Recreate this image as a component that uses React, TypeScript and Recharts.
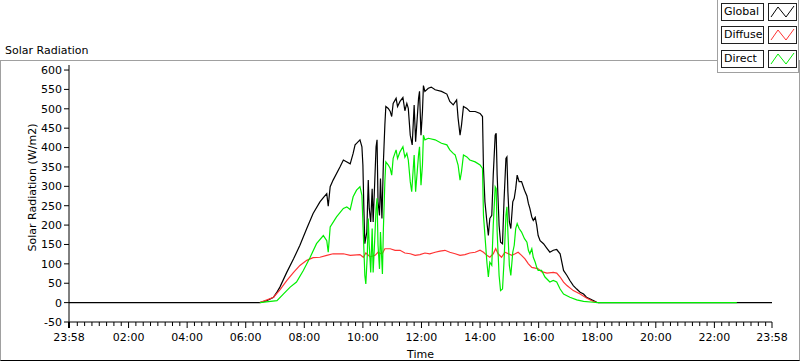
import React from 'react';
import { LineChart, Line, XAxis, YAxis, Label } from 'recharts';

const FONT = '"DejaVu Sans", Verdana, sans-serif';

const seriesNames = ['Global', 'Diffuse', 'Direct'];
const seriesKeys = ['global', 'diffuse', 'direct'];
const seriesColors = ['#000000', '#ff3333', '#00ee00'];

// time in minutes since midnight (x axis runs from 23:58 the day before to 23:58)
const globalTimes = [-2, 389, 403, 417, 424, 430, 444, 458, 471, 485, 498, 512, 519, 526, 529, 533, 539, 553, 560, 574, 580, 584, 587, 594, 598, 600, 602, 604, 608, 611, 613, 616, 619, 621, 624, 627, 629, 631, 634, 636, 639, 642, 645, 647, 652, 656, 659, 662, 668, 671, 676, 682, 686, 690, 693, 697, 701, 705, 708, 714, 716, 719, 722, 724, 727, 734, 740, 748, 761, 772, 778, 785, 792, 795, 799, 802, 806, 813, 819, 830, 840, 845, 847, 850, 854, 857, 860, 864, 867, 871, 873, 875, 879, 882, 886, 889, 893, 895, 897, 900, 903, 907, 910, 913, 916, 920, 925, 931, 936, 939, 942, 946, 949, 953, 956, 959, 963, 970, 977, 983, 990, 997, 1004, 1011, 1018, 1024, 1031, 1038, 1045, 1052, 1058, 1069, 1079, 1082, 1438];
const globalValues = [0, 0, 5, 14, 27, 40, 78, 113, 148, 191, 230, 260, 271, 281, 249, 299, 316, 350, 368, 358, 385, 407, 411, 420, 402, 355, 243, 152, 182, 316, 243, 208, 294, 208, 303, 402, 420, 260, 225, 320, 217, 363, 458, 506, 501, 493, 480, 514, 527, 506, 519, 529, 495, 514, 501, 432, 407, 510, 415, 527, 545, 432, 493, 560, 545, 553, 556, 549, 545, 538, 519, 510, 523, 476, 432, 458, 506, 501, 493, 493, 488, 480, 346, 260, 208, 173, 217, 225, 329, 432, 437, 329, 199, 156, 152, 260, 372, 376, 286, 208, 191, 260, 269, 294, 329, 312, 312, 290, 275, 256, 243, 221, 212, 220, 200, 173, 160, 152, 140, 130, 135, 137, 126, 83, 70, 57, 44, 35, 27, 22, 14, 7, 1, 0, 0];

const diffuseTimes = [389, 417, 430, 444, 458, 471, 485, 498, 512, 526, 539, 560, 574, 594, 601, 606, 615, 625, 631, 639, 645, 656, 666, 676, 686, 697, 707, 717, 727, 737, 748, 758, 768, 778, 789, 799, 809, 819, 830, 840, 847, 854, 860, 867, 872, 877, 884, 891, 898, 905, 912, 918, 925, 932, 939, 946, 953, 959, 966, 977, 990, 997, 1004, 1011, 1018, 1031, 1045, 1058, 1072, 1079];
const diffuseValues = [0, 14, 33, 57, 78, 96, 109, 116, 117, 122, 126, 126, 122, 124, 117, 128, 118, 122, 130, 125, 139, 139, 135, 135, 128, 126, 122, 124, 128, 126, 130, 133, 135, 130, 126, 122, 124, 128, 130, 135, 130, 122, 117, 126, 139, 126, 117, 130, 126, 122, 126, 130, 122, 113, 100, 91, 89, 87, 80, 76, 78, 76, 66, 53, 44, 31, 22, 12, 3, 0];

const directTimes = [389, 424, 437, 451, 464, 478, 492, 505, 519, 526, 529, 533, 546, 560, 567, 574, 580, 587, 594, 598, 601, 604, 606, 609, 611, 613, 616, 619, 621, 624, 627, 629, 631, 634, 636, 640, 642, 645, 647, 652, 656, 659, 662, 668, 671, 676, 682, 686, 690, 693, 697, 700, 705, 708, 714, 716, 719, 722, 724, 727, 734, 748, 761, 772, 778, 785, 789, 795, 799, 802, 806, 813, 819, 830, 840, 845, 847, 850, 854, 857, 860, 864, 867, 871, 873, 875, 879, 882, 886, 889, 893, 895, 897, 900, 903, 907, 910, 913, 916, 920, 925, 931, 936, 939, 942, 946, 949, 953, 956, 959, 966, 973, 980, 983, 990, 997, 1004, 1011, 1024, 1038, 1052, 1072, 1082, 1366];
const directValues = [0, 5, 22, 40, 53, 83, 117, 152, 173, 160, 130, 195, 221, 243, 247, 240, 273, 290, 299, 277, 173, 70, 48, 122, 217, 148, 78, 191, 78, 156, 243, 269, 148, 87, 182, 74, 191, 312, 363, 355, 346, 329, 372, 394, 372, 389, 402, 375, 385, 368, 312, 286, 381, 286, 381, 402, 303, 355, 432, 420, 424, 420, 411, 407, 394, 385, 381, 355, 316, 338, 381, 376, 368, 363, 355, 346, 225, 173, 104, 66, 104, 96, 199, 299, 294, 182, 70, 31, 35, 104, 225, 247, 182, 96, 70, 130, 148, 191, 204, 191, 182, 165, 156, 135, 126, 139, 117, 104, 91, 83, 83, 66, 57, 53, 57, 53, 35, 22, 14, 7, 3, 1, 0, 0];

const yTicks = [-50, 0, 50, 100, 150, 200, 250, 300, 350, 400, 450, 500, 550, 600];
const yDomain = [-50, 613];
const xMajorTicks = [-2, 120, 240, 360, 480, 600, 720, 840, 960, 1080, 1200, 1320, 1438];
const xMajorLabels = ['23:58', '02:00', '04:00', '06:00', '08:00', '10:00', '12:00', '14:00', '16:00', '18:00', '20:00', '22:00', '23:58'];

const xMinorTicks: number[] = [];
for (let m = 15; m < 1438; m += 15) {
  if (m % 120 !== 0) xMinorTicks.push(m);
}
const xAllTicks = [...xMajorTicks, ...xMinorTicks].sort((a, b) => a - b);

function buildRows() {
  const map = new Map<number, any>();
  const add = (times: number[], values: number[], key: string) => {
    times.forEach((t, i) => {
      const row = map.get(t) ?? { t };
      row[key] = values[i];
      map.set(t, row);
    });
  };
  add(globalTimes, globalValues, 'global');
  add(diffuseTimes, diffuseValues, 'diffuse');
  add(directTimes, directValues, 'direct');
  return Array.from(map.values()).sort((a, b) => a.t - b.t);
}
const rows = buildRows();

const XTick = (props: any) => {
  const { x, y, payload } = props;
  const idx = xMajorTicks.indexOf(payload.value);
  if (idx < 0) {
    return <line x1={x} x2={x} y1={y} y2={y + 4} stroke="#000" />;
  }
  return (
    <g>
      <line x1={x} x2={x} y1={y} y2={y + 6} stroke="#000" strokeWidth={idx === 0 ? 2 : 1} />
      <text x={x} y={y + 19} textAnchor="middle" fontSize={11} fontFamily={FONT} fill="#000">
        {xMajorLabels[idx]}
      </text>
    </g>
  );
};

const YLabel = (props: any) => {
  const vb = props.viewBox || { x: 0, y: 65, width: 69, height: 257 };
  const cx = vb.x + 32;
  const cy = vb.y + vb.height / 2 - 6;
  return (
    <text
      x={cx}
      y={cy}
      textAnchor="middle"
      dominantBaseline="central"
      fontSize={11}
      fontFamily={FONT}
      fill="#000"
      transform={`rotate(-90 ${cx} ${cy})`}
    >
      Solar Radiation (W/m2)
    </text>
  );
};

const Zigzag = ({ color }: { color: string }) => (
  <svg width={27} height={16} style={{ display: 'block' }}>
    <polyline points="2,13 9,3 17,13 25,2" fill="none" stroke={color} strokeWidth={1} />
  </svg>
);

const LegendBox = () => (
  <div
    style={{
      position: 'absolute',
      left: 717,
      top: 0,
      width: 82,
      height: 73,
      boxSizing: 'border-box',
      borderLeft: '1px solid #a0a0a0',
      borderBottom: '1px solid #a0a0a0',
      borderRight: '1px solid #a0a0a0',
      background: '#fff',
    }}
  >
    {seriesNames.map((name, i) => (
      <div key={name} style={{ position: 'absolute', left: 3, top: 3 + i * 23.3, height: 18 }}>
        <div
          style={{
            position: 'absolute',
            left: 0,
            top: 0,
            width: 43,
            height: 18,
            boxSizing: 'border-box',
            border: '1px solid #202020',
            fontFamily: FONT,
            fontSize: 11,
            lineHeight: '16px',
            paddingLeft: 2,
            color: '#000',
            background: '#fff',
          }}
        >
          {name}
        </div>
        <div
          style={{
            position: 'absolute',
            left: 47,
            top: 0,
            width: 29,
            height: 18,
            boxSizing: 'border-box',
            border: '1px solid #202020',
            background: '#fff',
          }}
        >
          <Zigzag color={seriesColors[i]} />
        </div>
      </div>
    ))}
  </div>
);

export default function App() {
  return (
    <div
      style={{
        position: 'absolute',
        left: 0,
        top: 0,
        width: 800,
        height: 361,
        background: '#fff',
        fontFamily: FONT,
        fontSize: 11,
        overflow: 'hidden',
      }}
    >
      <div
        style={{
          position: 'absolute',
          left: 0,
          top: 60,
          width: 800,
          height: 301,
          boxSizing: 'border-box',
          borderTop: '1px solid #a0a0a0',
          borderLeft: '1px solid #a0a0a0',
          borderBottom: '1px solid #000',
          borderRight: '1px solid #a0a0a0',
        }}
      />
      <div style={{ position: 'absolute', left: 5, top: 44, fontSize: 11, lineHeight: '14px', color: '#000' }}>
        Solar Radiation
      </div>
      <div style={{ position: 'absolute', left: 0, top: 0 }}>
        <LineChart width={800} height={361} data={rows} margin={{ top: 65, right: 28, bottom: 0, left: 0 }}>
          <XAxis
            dataKey="t"
            type="number"
            domain={[-2, 1438]}
            ticks={xAllTicks}
            interval={0}
            allowDataOverflow
            tick={<XTick />}
            tickLine={false}
            tickSize={0}
            tickMargin={0}
            height={39}
            axisLine={{ stroke: '#000' }}
          >
            <Label value="Time" position="insideBottom" offset={3} fill="#000" fontSize={11} fontFamily={FONT} />
          </XAxis>
          <XAxis
            xAxisId="top"
            orientation="top"
            dataKey="t"
            type="number"
            domain={[-2, 1438]}
            tick={false}
            tickLine={false}
            height={0}
            axisLine={{ stroke: '#000' }}
          />
          <YAxis
            type="number"
            domain={yDomain}
            ticks={yTicks}
            interval={0}
            allowDataOverflow
            width={69}
            tickSize={5}
            tickMargin={2}
            tick={{ fill: '#000', fontSize: 11, fontFamily: FONT }}
            tickLine={{ stroke: '#000' }}
            axisLine={{ stroke: '#000' }}
          >
            <Label content={<YLabel />} />
          </YAxis>
          <YAxis
            yAxisId="right"
            orientation="right"
            type="number"
            domain={yDomain}
            tick={false}
            tickLine={false}
            width={0}
            axisLine={{ stroke: '#a0a0a0' }}
          />
          {seriesKeys.map((key, i) => (
            <Line
              key={key}
              type="linear"
              dataKey={key}
              name={seriesNames[i]}
              stroke={seriesColors[i]}
              strokeWidth={1.2}
              dot={false}
              activeDot={false}
              connectNulls
              isAnimationActive={false}
            />
          ))}
        </LineChart>
      </div>
      <LegendBox />
    </div>
  );
}
